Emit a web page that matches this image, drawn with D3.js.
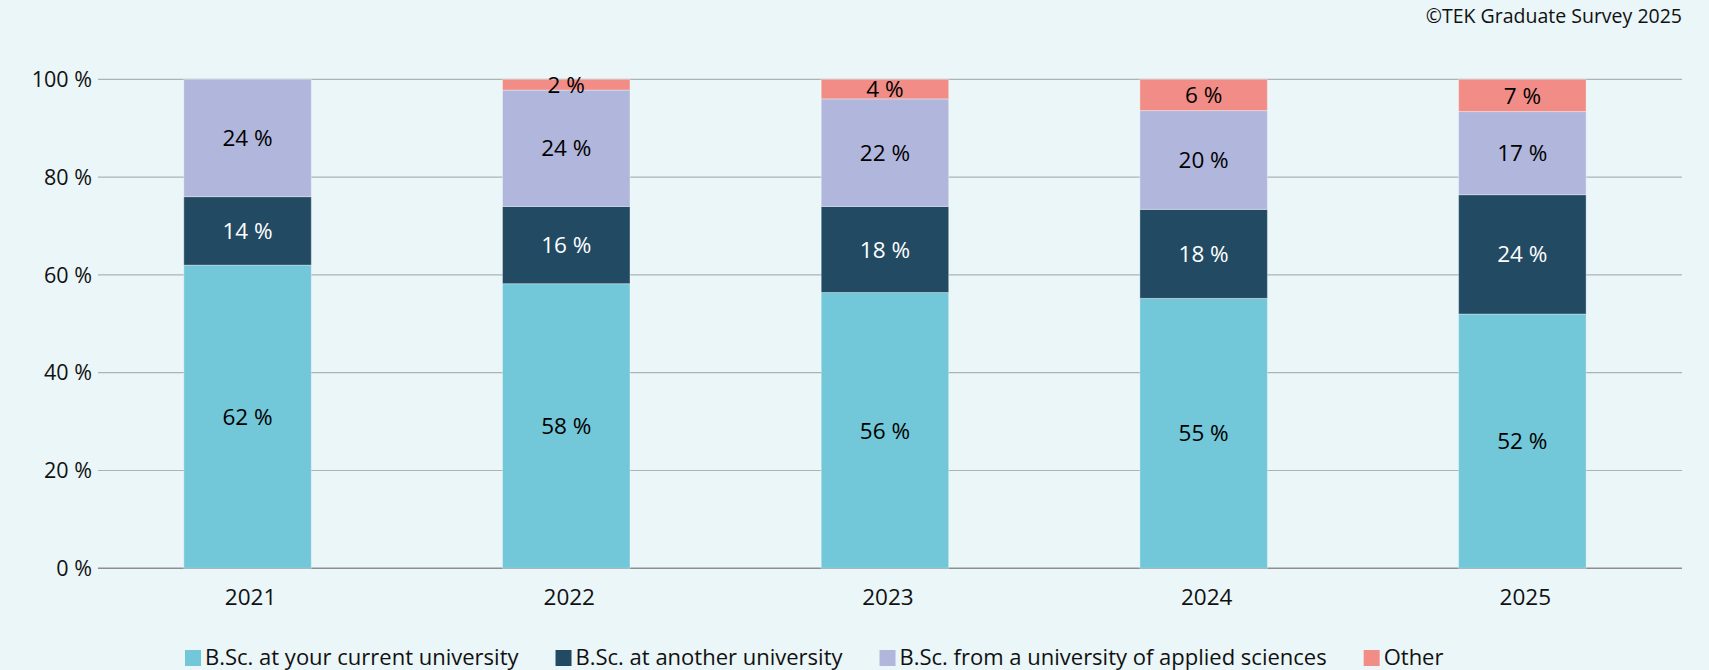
<!DOCTYPE html>
<html>
<head>
<meta charset="utf-8">
<script src="https://cdn.jsdelivr.net/npm/d3@7"></script>
<style>
  body { margin: 0; background: #eaf6f8; }
  svg { display: block; font-family: "Open Sans", "Noto Sans", sans-serif; }
</style>
</head>
<body>
<svg width="1709" height="670"></svg>
<script>
// values (share of respondents, %)
var years = ["2021", "2022", "2023", "2024", "2025"];
var seriesNames = ["B.Sc. at your current university", "B.Sc. at another university",
                   "B.Sc. from a university of applied sciences", "Other"];
var currentUni = [62, 58.2, 56.4, 55.2, 52.0];
var anotherUni = [14, 15.8, 17.6, 18.2, 24.4];
var appliedSci = [24, 23.8, 22.0, 20.2, 17.0];
var otherVals  = [0, 2.2, 4.0, 6.4, 6.6];
var yTicks = [0, 20, 40, 60, 80, 100];

var colors = ["#72c7d8", "#224a63", "#b1b6dc", "#f28c86"];
var labelColors = ["#000", "#fff", "#000", "#000"];

var svg = d3.select("svg");

var rows = years.map(function (y, i) {
    return { year: y, s0: currentUni[i], s1: anotherUni[i], s2: appliedSci[i], s3: otherVals[i] };
});
var keys = ["s0", "s1", "s2", "s3"];
var stacked = d3.stack().keys(keys)(rows);

var x = d3.scaleBand()
    .domain(years)
    .range([88.2, 1681.7])
    .paddingInner(0.6)
    .paddingOuter(0.3);

var y = d3.scaleLinear()
    .domain([0, 100])
    .range([568.3, 79.3]);

// copyright
svg.append("text")
    .attr("x", 1682)
    .attr("y", 23)
    .attr("text-anchor", "end")
    .attr("font-size", 19.5)
    .attr("fill", "#111")
    .text("\u00a9TEK Graduate Survey 2025");

// grid lines
svg.append("g")
    .selectAll("line")
    .data(yTicks)
    .enter().append("line")
    .attr("x1", 98)
    .attr("x2", 1682)
    .attr("y1", function (d) { return y(d); })
    .attr("y2", function (d) { return y(d); })
    .attr("stroke", function (d) { return d === 0 ? "#8f8f8f" : "#adb3b5"; })
    .attr("stroke-width", function (d) { return d === 0 ? 1.5 : 1.2; });

// y tick labels
svg.append("g")
    .selectAll("text")
    .data(yTicks)
    .enter().append("text")
    .attr("x", 92)
    .attr("y", function (d) { return y(d); })
    .attr("dy", "0.36em")
    .attr("text-anchor", "end")
    .attr("font-size", 21.5)
    .attr("fill", "#111")
    .text(function (d) { return d + " %"; });

// bars
var layers = svg.append("g")
    .selectAll("g")
    .data(stacked)
    .enter().append("g")
    .attr("fill", function (d, i) { return colors[i]; });

layers.selectAll("rect")
    .data(function (d) { return d; })
    .enter().append("rect")
    .attr("x", function (d) { return x(d.data.year); })
    .attr("width", x.bandwidth())
    .attr("y", function (d) { return y(d[1]); })
    .attr("height", function (d) { return y(d[0]) - y(d[1]); })
    .attr("stroke", "rgba(255,255,255,0.35)")
    .attr("stroke-width", 1);

// value labels
layers.each(function (layer, i) {
    d3.select(this).selectAll("text")
        .data(layer.filter(function (d) { return d[1] - d[0] > 0; }))
        .enter().append("text")
        .attr("x", function (d) { return x(d.data.year) + x.bandwidth() / 2; })
        .attr("y", function (d) { return y((d[0] + d[1]) / 2); })
        .attr("dy", "0.36em")
        .attr("text-anchor", "middle")
        .attr("font-size", 22.5)
        .attr("fill", labelColors[i])
        .text(function (d) { return Math.round(d[1] - d[0]) + " %"; });
});

// x labels
svg.append("g")
    .selectAll("text")
    .data(years)
    .enter().append("text")
    .attr("x", function (d) { return x(d) + x.bandwidth() / 2 + 3; })
    .attr("y", 605)
    .attr("text-anchor", "middle")
    .attr("font-size", 22.5)
    .attr("fill", "#111")
    .text(function (d) { return d; });

// legend
var legend = svg.append("g");
var lx = 185;
seriesNames.forEach(function (name, i) {
    legend.append("rect")
        .attr("x", lx)
        .attr("y", 650)
        .attr("width", 16)
        .attr("height", 16)
        .attr("fill", colors[i]);
    var t = legend.append("text")
        .attr("x", lx + 20)
        .attr("y", 665)
        .attr("font-size", 22)
        .attr("fill", "#111")
        .text(name);
    lx += 20 + t.node().getComputedTextLength() + 37;
});
</script>
</body>
</html>
